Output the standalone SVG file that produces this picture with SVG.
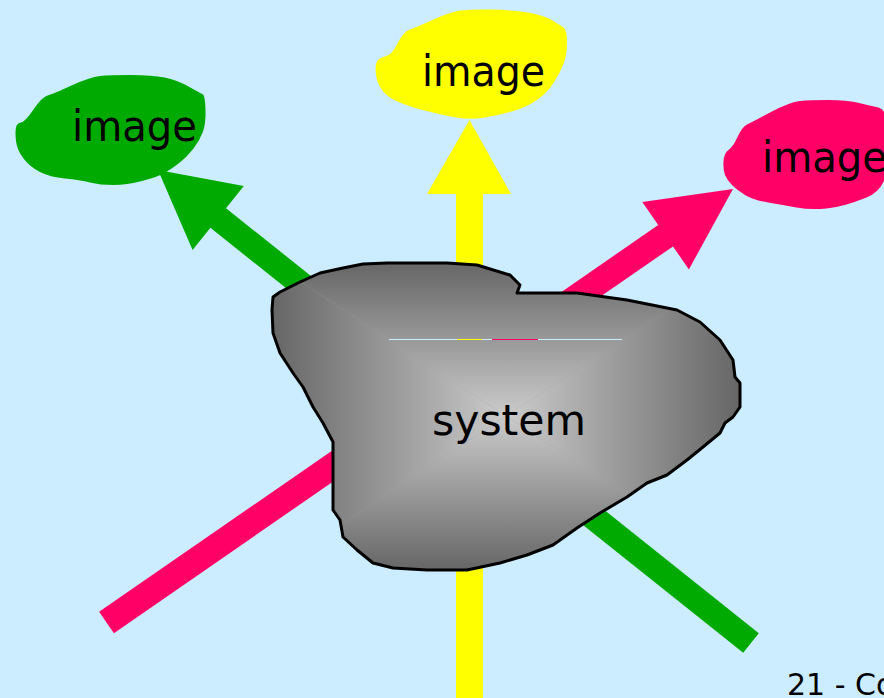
<svg xmlns="http://www.w3.org/2000/svg" width="884" height="698" viewBox="0 0 884 698">
<style>
.lbl{font-family:"DejaVu Sans","Liberation Sans",sans-serif;font-size:42px;fill:#000}
.green{fill:#00AA00}
.pink{fill:#FF0066}
.yellow{fill:#FFFF00}
</style>
<defs>
<clipPath id="sysclip"><path id="sysshape" d="M273,297 L272,310 L273,333 L280,353 L293,373 L303,387 L313,407 L323,423 L333,442 L333,510 L340,520 L343,537 L357,550 L373,563 L393,568 L427,570 L467,570 L500,563 L527,555 L553,545 L577,528 L600,513 L627,497 L647,483 L667,475 L687,460 L703,447 L720,433 L725,423 L733,417 L740,407 L740,383 L735,377 L733,360 L720,340 L700,322 L677,310 L627,300 L577,293 L517,293 L520,285 L510,275 L477,265 L447,263 L387,263 L363,264 L343,268 L320,273 L300,282 L280,292 Z"/></clipPath>
<linearGradient id="gT" gradientUnits="userSpaceOnUse" x1="0" y1="263" x2="0" y2="416"><stop offset="0" stop-color="#666"/><stop offset="1" stop-color="#cbcbcb"/></linearGradient>
<linearGradient id="gB" gradientUnits="userSpaceOnUse" x1="0" y1="570" x2="0" y2="416"><stop offset="0" stop-color="#666"/><stop offset="1" stop-color="#cbcbcb"/></linearGradient>
<linearGradient id="gL" gradientUnits="userSpaceOnUse" x1="272" y1="0" x2="506" y2="0"><stop offset="0" stop-color="#666"/><stop offset="1" stop-color="#cbcbcb"/></linearGradient>
<linearGradient id="gR" gradientUnits="userSpaceOnUse" x1="740" y1="0" x2="506" y2="0"><stop offset="0" stop-color="#666"/><stop offset="1" stop-color="#cbcbcb"/></linearGradient>
</defs>
<rect width="884" height="698" fill="#CCECFF"/>
<g id="connectors">
<polygon class="green" points="758.8,633.2 226.0,208.2 243.8,185.9 158,170 192.6,250.1 210.4,227.8 743.2,652.8"/>
<polygon class="yellow" points="456,698 456,194 427,194 469.5,120 511,194 483,194 483,698"/>
<polygon class="pink" points="113.9,633.2 673.0,246.4 688.9,269.4 733,189 642.3,202.0 658.2,225.0 99.1,611.8"/>
</g>
<g id="image-green">
<path class="green" d="M16,127.5 Q17,123 21,122.5 Q25,122 33.5,109.5 Q42,97 47.5,95.5 Q53,94 71.5,85.5 Q90,77 100,76 Q110,75 131,75 Q152,75 164.5,77.5 Q177,80 188.5,86.5 Q200,93 202.5,94 Q205,95 205.5,109 Q206,123 203,131.5 Q200,140 193.5,148.5 Q187,157 178.5,163.5 Q170,170 163.5,173.5 Q157,177 142,181 Q127,185 113.5,185 Q100,185 90,182.5 Q80,180 65,178.5 Q50,177 40,172 Q30,167 23.5,158.5 Q17,150 16,141 Q15,132 16,127.5 Z"/>
<text class="lbl" x="72" y="141" textLength="125" lengthAdjust="spacingAndGlyphs">image</text>
</g>
<g id="image-yellow">
<path class="yellow" d="M376.5,62.5 Q378,58 385,56.5 Q392,55 397.5,43.5 Q403,32 410,29.5 Q417,27 433.5,19.5 Q450,12 460,10.5 Q470,9 491.5,9.5 Q513,10 528,12.5 Q543,15 551.5,20 Q560,25 563.5,27.5 Q567,30 567,42.5 Q567,55 563.5,64 Q560,73 553.5,83 Q547,93 537,100 Q527,107 513.5,111 Q500,115 485,117.5 Q470,120 456.5,117.5 Q443,115 426.5,111 Q410,107 398.5,102 Q387,97 382,90 Q377,83 376,75 Q375,67 376.5,62.5 Z"/>
<text class="lbl" x="422" y="86" textLength="123" lengthAdjust="spacingAndGlyphs">image</text>
</g>
<g id="image-pink">
<path class="pink" d="M723.5,161.5 Q724,153 728.5,150 Q733,147 737.5,137 Q742,127 747,124.5 Q752,122 771,112 Q790,102 800,101 Q810,100 828.5,100 Q847,100 857,102.5 Q867,105 878.5,107.5 Q890,110 890,149 Q890,188 866.5,197.5 Q843,207 826.5,208.5 Q810,210 796.5,207.5 Q783,205 768,202.5 Q753,200 745,195 Q737,190 732,185 Q727,180 725,175 Q723,170 723.5,161.5 Z"/>
<text class="lbl" x="762" y="172" textLength="125" lengthAdjust="spacingAndGlyphs">image</text>
</g>
<g id="system">
<g clip-path="url(#sysclip)">
<rect x="270" y="260" width="472" height="312" fill="#999"/>
<polygon fill="url(#gT)" points="272,263 740,263 506,416"/>
<polygon fill="url(#gB)" points="272,570 740,570 506,416"/>
<polygon fill="url(#gL)" points="272,263 272,570 506,416"/>
<polygon fill="url(#gR)" points="740,263 740,570 506,416"/>
</g>
<use href="#sysshape" fill="none" stroke="#000" stroke-width="3" stroke-linejoin="round"/>
<line x1="389" y1="339.5" x2="622" y2="339.5" stroke="#CCECFF" stroke-width="1"/>
<line x1="457" y1="339.5" x2="482" y2="339.5" stroke="#FFFF00" stroke-width="1"/>
<line x1="492" y1="339.5" x2="538" y2="339.5" stroke="#FF0066" stroke-width="1"/>
<text class="lbl" x="432" y="435" textLength="154" lengthAdjust="spacingAndGlyphs">system</text>
</g>
<text x="787" y="695" font-family="DejaVu Sans, sans-serif" font-size="30" fill="#000">21 - Co</text>
</svg>
